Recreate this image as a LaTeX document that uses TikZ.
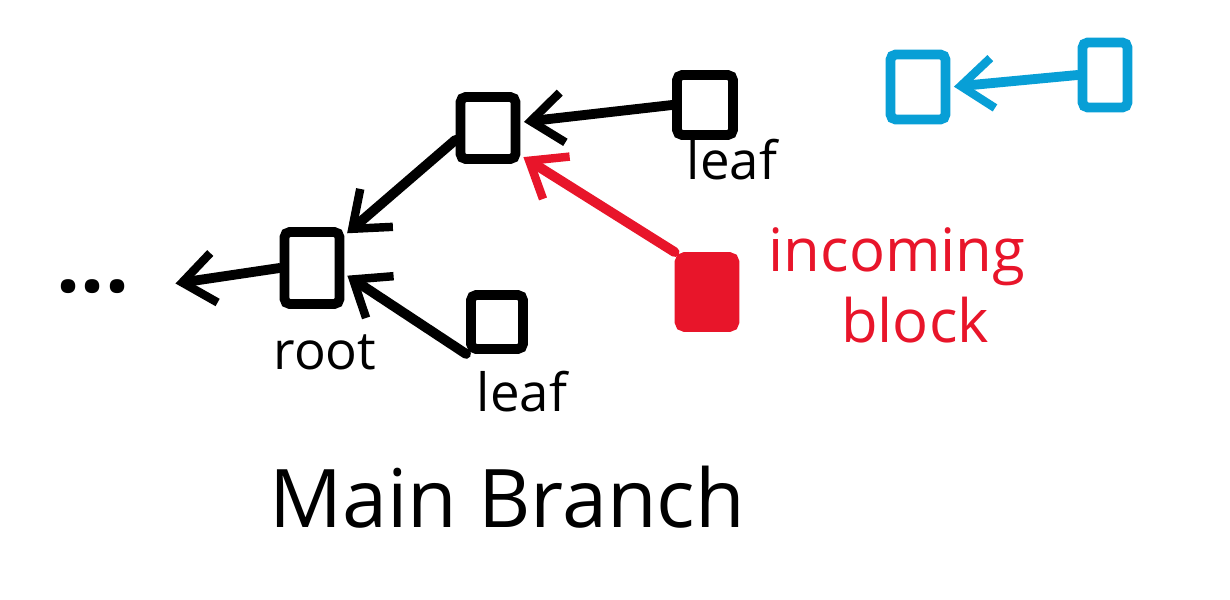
\documentclass[tikz,border=0pt]{standalone}
\usepackage{fontspec}
\setmainfont{Open Sans}
\usetikzlibrary{arrows.meta}
\definecolor{inkred}{HTML}{E8152A}
\definecolor{inkblue}{HTML}{089FD6}
\tikzset{
  blk/.style={draw, line width=2.8pt, rounded corners=1.5pt, inner sep=0pt, line cap=round},
  arr/.style={-{Straight Barb[length=0.32cm,width=0.5cm,line width=2.4pt]}, line width=2.8pt, line cap=round, shorten >=1pt},
  lbl/.style={inner sep=0pt, font=\fontsize{15}{18}\selectfont},
}
\begin{document}
\begin{tikzpicture}[x=0.01cm,y=-0.01cm]
\useasboundingbox (0,0) rectangle (1230,600);
% black tree
\node[blk, minimum width=0.55cm, minimum height=0.72cm] (root) at (312,268) {};
\node[blk, minimum width=0.55cm, minimum height=0.62cm] (mid) at (488,128) {};
\node[blk, minimum width=0.56cm, minimum height=0.60cm] (leafT) at (705,105) {};
\node[blk, minimum width=0.52cm, minimum height=0.54cm] (leafB) at (497,322) {};
\node[inner sep=0pt, font=\fontsize{24}{28}\selectfont\bfseries] (dots) at (93,287) {...};
\coordinate (dotsend) at (172,284);
\node[lbl] (rootlbl) at (325,352) {root};
\node[lbl] (leafTlbl) at (732,160) {leaf};
\node[lbl] (leafBlbl) at (522,392) {leaf};
\node[inner sep=0pt, font=\fontsize{23}{28}\selectfont] (title) at (507,497) {Main Branch};
\draw[arr] (root.west) -- (dotsend);
\draw[arr] (mid.200) -- (root.45);
\draw[arr] (leafB.south west) -- (root.-10);
\draw[arr] (leafT.west) -- (mid.10);
% red incoming block
\node[blk, draw=inkred, fill=inkred, minimum width=0.55cm, minimum height=0.70cm] (inc) at (707,292) {};
\draw[arr, draw=inkred] (inc.north west) -- (mid.-40);
\node[lbl, text=inkred, font=\fontsize{17}{20}\selectfont] (inclbl1) at (897,257) {incoming};
\node[lbl, text=inkred, font=\fontsize{17}{20}\selectfont] (inclbl2) at (915,320) {block};
% blue pair
\node[blk, draw=inkblue, minimum width=0.55cm, minimum height=0.65cm] (blueL) at (918,87) {};
\node[blk, draw=inkblue, minimum width=0.45cm, minimum height=0.65cm] (blueR) at (1105,75) {};
\draw[arr, draw=inkblue] (blueR.west) -- (blueL.east);
\end{tikzpicture}
\end{document}
